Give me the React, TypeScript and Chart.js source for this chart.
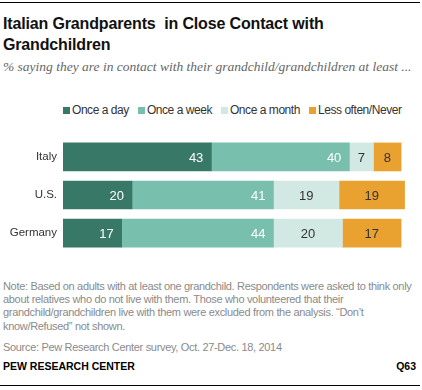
import React, { useEffect, useRef } from "react";
import { Chart, registerables } from "chart.js";

Chart.register(...registerables);

const categories = ["Italy", "U.S.", "Germany"];
const seriesNames = ["Once a day", "Once a week", "Once a month", "Less often/Never"];
const onceADay = [43, 20, 17];
const onceAWeek = [40, 41, 44];
const onceAMonth = [7, 19, 20];
const lessOften = [8, 19, 17];
const seriesColors = ["#387866", "#78bfae", "#d2e9e3", "#e9a22f"];
const labelColors = ["#ffffff", "#ffffff", "#333333", "#333333"];
const labelAlign = ["end", "end", "center", "center"];

const FONT = "'Liberation Sans', Arial, sans-serif";

const valueLabels = {
  id: "valueLabels",
  afterDatasetsDraw(chart: any) {
    const ctx = chart.ctx;
    ctx.save();
    ctx.font = `13px ${FONT}`;
    ctx.textBaseline = "middle";
    chart.data.datasets.forEach((ds: any, di: number) => {
      const meta = chart.getDatasetMeta(di);
      meta.data.forEach((bar: any, i: number) => {
        const v = ds.data[i];
        const left = Math.min(bar.x, bar.base);
        const right = Math.max(bar.x, bar.base);
        ctx.fillStyle = labelColors[di];
        if (labelAlign[di] === "end") {
          ctx.textAlign = "right";
          ctx.fillText(String(v), right - 8, bar.y + 1);
        } else {
          ctx.textAlign = "center";
          ctx.fillText(String(v), (left + right) / 2, bar.y + 1);
        }
      });
    });
    ctx.restore();
  },
};

function BarChart() {
  const ref = useRef<HTMLCanvasElement>(null);
  useEffect(() => {
    const values = [onceADay, onceAWeek, onceAMonth, lessOften];
    const chart = new Chart(ref.current!, {
      type: "bar",
      data: {
        labels: categories,
        datasets: seriesNames.map((name, i) => ({
          label: name,
          data: values[i],
          backgroundColor: seriesColors[i],
          borderWidth: 0,
          barThickness: 28,
        })),
      },
      options: {
        indexAxis: "y",
        responsive: false,
        animation: false,
        layout: { padding: { left: 0, right: 14, top: 8, bottom: 6 } },
        scales: {
          x: { stacked: true, min: 0, max: 100, display: false },
          y: {
            stacked: true,
            grid: { display: false, drawTicks: false },
            border: { display: false },
            ticks: { color: "#333", font: { family: FONT, size: 11.5 }, padding: 6 },
            afterFit: (s: any) => { s.width = 63; },
          },
        },
        plugins: {
          legend: { display: false },
          tooltip: { enabled: false },
        },
      },
      plugins: [valueLabels],
    } as any);
    return () => chart.destroy();
  }, []);
  return <canvas ref={ref} width={422} height={140} style={{ position: "absolute", left: 0, top: 125 }} />;
}

function Legend() {
  return (
    <div
      style={{
        position: "absolute",
        left: 63,
        top: 102,
        display: "flex",
        alignItems: "center",
        fontFamily: FONT,
        fontSize: 12,
        letterSpacing: -0.45,
        color: "#333",
        whiteSpace: "nowrap",
        lineHeight: "16px",
      }}
    >
      {seriesNames.map((name, i) => (
        <div key={name} style={{ display: "flex", alignItems: "center", marginRight: 9 }}>
          <span style={{ display: "inline-block", width: 7, height: 7, background: seriesColors[i], marginRight: 2 }} />
          <span>{name}</span>
        </div>
      ))}
    </div>
  );
}

export default function App() {
  const noteStyle: React.CSSProperties = {
    position: "absolute",
    left: 3,
    fontFamily: FONT,
    fontSize: 11,
    letterSpacing: -0.32,
    color: "#8a8a8a",
    lineHeight: "13.2px",
    whiteSpace: "nowrap",
  };
  return (
    <div style={{ position: "absolute", left: 0, top: 0, width: 422, height: 390, background: "#fff" }}>
      <div style={{ position: "absolute", left: 0, top: 2, width: 420, height: 1, background: "#000" }} />
      <div
        style={{
          position: "absolute",
          left: 3,
          top: 13,
          fontFamily: FONT,
          fontWeight: "bold",
          fontSize: 16,
          letterSpacing: -0.15,
          lineHeight: "21px",
          color: "#111",
          whiteSpace: "nowrap",
        }}
      >
        Italian Grandparents&nbsp; in Close Contact with
        <br />
        Grandchildren
      </div>
      <div
        style={{
          position: "absolute",
          left: 3,
          top: 59,
          fontFamily: "'Liberation Serif', serif",
          fontStyle: "italic",
          fontSize: 13.5,
          color: "#666",
          whiteSpace: "nowrap",
        }}
      >
        % saying they are in contact with their grandchild/grandchildren at least ...
      </div>
      <Legend />
      <BarChart />
      <div style={{ ...noteStyle, top: 280 }}>
        Note: Based on adults with at least one grandchild. Respondents were asked to think only
        <br />
        about relatives who do not live with them. Those who volunteered that their
        <br />
        grandchild/grandchildren live with them were excluded from the analysis. “Don’t
        <br />
        know/Refused” not shown.
      </div>
      <div style={{ ...noteStyle, top: 341 }}>Source: Pew Research Center survey, Oct. 27-Dec. 18, 2014</div>
      <div
        style={{
          position: "absolute",
          left: 3,
          top: 360,
          fontFamily: FONT,
          fontWeight: "bold",
          fontSize: 10.5,
          color: "#000",
        }}
      >
        PEW RESEARCH CENTER
      </div>
      <div
        style={{
          position: "absolute",
          right: 6,
          top: 360,
          fontFamily: FONT,
          fontWeight: "bold",
          fontSize: 10.5,
          color: "#000",
        }}
      >
        Q63
      </div>
      <div style={{ position: "absolute", left: 0, top: 385, width: 420, height: 1, background: "#000" }} />
    </div>
  );
}
